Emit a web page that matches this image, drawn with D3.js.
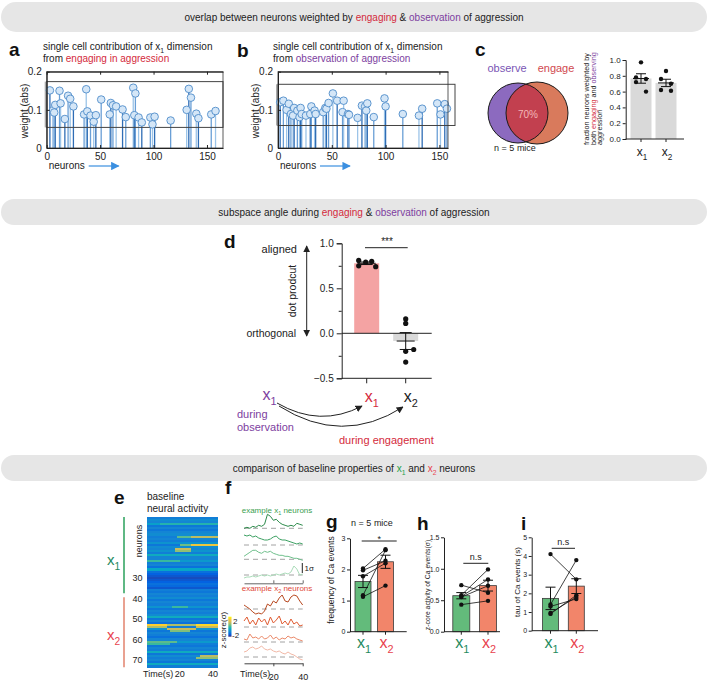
<!DOCTYPE html>
<html>
<head>
<meta charset="utf-8">
<script src="https://cdn.jsdelivr.net/npm/d3@7/dist/d3.min.js"></script>
<style>
  body { margin: 0; background: #fff; }
  svg { display: block; }
</style>
</head>
<body>
<script>
// ---- values ----

// a: |weight| of single neurons on x1, engaging in aggression
var engageNeuron = [3, 6, 7, 8, 12, 13, 17, 20, 22, 25, 35, 37, 38, 41, 44, 46, 51, 59, 60, 62, 65, 71, 74, 81, 82, 83, 86, 89, 97, 99, 101, 116, 131, 133, 135, 140, 142, 154, 158];
var engageWeight = [0.151, 0.099, 0.093, 0.113, 0.150, 0.117, 0.076, 0.137, 0.129, 0.109, 0.088, 0.154, 0.096, 0.085, 0.069, 0.086, 0.127, 0.088, 0.118, 0.112, 0.109, 0.101, 0.081, 0.158, 0.086, 0.143, 0.080, 0.067, 0.080, 0.062, 0.082, 0.072, 0.100, 0.155, 0.132, 0.090, 0.078, 0.088, 0.097];

// b: same, observation of aggression
var observeNeuron = [2, 5, 8, 10, 12, 14, 15, 18, 20, 21, 22, 26, 30, 31, 34, 35, 42, 44, 45, 47, 51, 55, 60, 61, 65, 66, 74, 78, 81, 82, 83, 89, 99, 100, 116, 131, 134, 148, 151, 155, 157];
var observeWeight = [0.120, 0.124, 0.100, 0.116, 0.089, 0.085, 0.105, 0.098, 0.081, 0.105, 0.089, 0.085, 0.089, 0.109, 0.098, 0.089, 0.094, 0.105, 0.103, 0.118, 0.143, 0.124, 0.094, 0.124, 0.089, 0.087, 0.079, 0.111, 0.109, 0.098, 0.117, 0.081, 0.130, 0.109, 0.089, 0.085, 0.103, 0.117, 0.088, 0.115, 0.103];

// c: overlap and fraction of neurons weighted by both
var overlapPct = 70;
var fracX1 = [0.97, 0.78, 0.76, 0.72, 0.60];
var fracX2 = [0.86, 0.76, 0.70, 0.62, 0.61];

// d: dot product
var dotX1 = [0.81, 0.79, 0.80, 0.74, 0.75];
var dotX2 = [0.16, 0.11, -0.20, -0.18, -0.32];

// e: baseline activity heatmap (z-score), per-row level + visible streaks [row, t0, t1, z]
var heatBase = [
  -1.1, -0.9, -1.0, -0.6, -1.2, -1.0, -1.2, -1.0, -0.9, -1.1,
  -1.0, -1.1, -0.8, -1.2, -0.9, -1.0, -0.8, -1.1, -1.2, -1.0,
  -1.0, -0.7, -1.1, -1.0, -1.3, -1.1, -1.3, -1.5, -1.6, -1.7,
  -1.6, -1.5, -1.3, -1.4, -1.6, -1.1, -1.2, -1.0, -1.1, -0.9,
  -1.2, -1.0, -1.1, -0.8, -1.2, -1.0, -1.1, -0.9, -0.7, -1.2,
  -1.0, -1.3, -0.6, -1.1, -0.8, -1.2, -1.0, -1.1, -1.3, -1.0,
  -0.7, -1.1, -1.2, -1.0, -1.1, -0.8, -1.2, -0.9, -1.1, -1.0,
  -1.2, -0.9, -1.1];
var heatEvents = [
  [4, 8, 43, -0.2], [10, 18, 27, 0.2], [10, 27, 43, 0.8], [14, 20, 27, 0.3], [14, 27, 43, 1.3],
  [16, 17, 27, 0.9], [17, 17, 27, 0.5], [19, 0, 43, -0.4], [22, 0, 20, 0.0], [26, 0, 43, -0.5],
  [44, 15, 25, 0.0], [49, 0, 43, -0.4], [53, 0, 12, 1.5], [53, 12, 30, 0.7], [53, 30, 43, 1.6],
  [54, 0, 12, 0.7], [54, 30, 43, 0.9], [55, 12, 30, 0.9], [56, 14, 26, 0.4], [61, 0, 18, 0.2],
  [62, 0, 14, 0.0], [66, 0, 43, -0.4], [68, 32, 43, 0.8], [69, 30, 43, 0.5], [72, 0, 43, -0.4]];
var heatTicks = [30, 40, 50, 60, 70];

// f: example traces (sigma above each dashed baseline), every 2 s
var traceTime = [0, 2, 4, 6, 8, 10, 12, 14, 16, 18, 20, 22, 24, 26, 28, 30, 32, 34, 36, 38, 40];
var x1Traces = [
  [0, 0.1, 0, 0.2, 0.1, 0.3, 0.2, 0.4, 1.4, 1.2, 0.8, 0.9, 0.6, 0.4, 0.3, 0.2, 0.3, 0.2, 0.5, 0.4, 0.3],
  [1.0, 0.9, 1.0, 0.8, 0.9, 0.7, 0.6, 0.5, 0.5, 0.6, 0.8, 0.9, 0.6, 0.5, 0.5, 0.4, 0.3, 0.2, 0.1, 0.2, 0.1],
  [0.3, 0.5, 0.7, 0.9, 0.9, 0.7, 0.6, 0.8, 0.7, 0.8, 0.6, 0.5, 0.4, 0.4, 0.3, 0.3, 0.2, 0.1, 0.1, 0.0, -0.1],
  [-0.3, -0.2, -0.2, -0.1, -0.2, -0.1, 0, -0.1, 0, -0.1, 0, 0.1, 0, 0.1, 0.2, 0.1, 0.3, 0.9, 0.6, 0.0, 0.1]];
var x2Traces = [
  [0.4, 0.2, 0, -0.3, -0.5, -0.4, -0.5, -0.2, 0.5, 0.3, 0.8, 0.6, 1.1, 1.4, 0.8, 0.7, 1.2, 1.4, 1.3, 0.8, 0.4],
  [0.6, 1.0, 0.3, 0.7, 0.2, 0.9, 0.5, 0.8, 0.2, 1.0, 0.4, 0.7, 1.1, 0.3, 0.6, 0.2, 0.8, 0.3, 0.5, 0.1, 0.2],
  [0.3, 0.2, 0.8, 0.4, 0.5, 0.3, 0.6, 0.3, 0.4, 0.7, 0.3, 0.5, 0.2, 0.4, 0.3, 0.6, 0.4, 0.5, 0.3, 0.2, 0.1],
  [0.5, 0.6, 0.9, 1.0, 0.8, 0.9, 1.1, 0.8, 0.7, 0.8, 0.6, 0.5, 0.6, 0.4, 0.3, 0.5, 0.3, 0.2, 0.0, -0.2, -0.3]];

// g, h, i: per mouse, x1 vs x2
var freqX1 = [2.03, 1.97, 1.78, 1.17, 1.12];
var freqX2 = [2.65, 2.28, 2.20, 2.62, 1.48];
var zactX1 = [0.74, 0.58, 0.56, 0.55, 0.43];
var zactX2 = [0.62, 0.99, 0.83, 0.73, 0.49];
var tauX1 = [4.10, 1.40, 0.90, 0.95, 1.30];
var tauX2 = [2.75, 3.78, 1.90, 1.80, 1.70];

// ---- drawing ----
var FONT = "'Liberation Sans', Arial, Helvetica, sans-serif";
var RED = "#d42a3c", PURPLE = "#7d3ea0", GREEN = "#1e8a5e", ORANGE = "#e8424e";

var svg = d3.select("body").append("svg")
  .attr("width", 708).attr("height", 681)
  .attr("font-family", FONT);

var defs = svg.append("defs");
function arrowMarker(id, col) {
  defs.append("marker").attr("id", id).attr("viewBox", "0 0 10 10")
    .attr("refX", 9).attr("refY", 5).attr("markerWidth", 7).attr("markerHeight", 7)
    .attr("orient", "auto-start-reverse")
    .append("path").attr("d", "M0,0L10,5L0,10z").attr("fill", col);
}
arrowMarker("ahBlack", "#222");
arrowMarker("ahBlue", "#3b8fe0");

// text with coloured parts and subscripts
function rich(parent, x, y, parts, size, anchor) {
  var t = parent.append("text").attr("x", x).attr("y", y)
    .attr("font-size", size).attr("text-anchor", anchor || "start");
  var shift = 0;
  parts.forEach(function(p) {
    var s = p.sub ? size * 0.3 : 0;
    t.append("tspan").attr("dy", s - shift)
      .attr("font-size", p.sub ? size * 0.68 : size)
      .attr("fill", p.c || "#222").text(p.t);
    shift = s;
  });
  return t;
}

function axisStyle(sel, fs) {
  sel.attr("font-family", FONT).attr("font-size", fs);
  sel.selectAll("path,line").attr("stroke", "#222");
  sel.selectAll("text").attr("fill", "#222");
}

function letter(t, x, y) {
  svg.append("text").attr("x", x).attr("y", y).attr("font-size", 19)
    .attr("font-weight", "bold").attr("fill", "#111").text(t);
}

function banner(y, h, parts) {
  svg.append("rect").attr("x", 1).attr("y", y).attr("width", 706).attr("height", h)
    .attr("rx", h / 2).attr("fill", "#e6e6e6");
  rich(svg, 354, y + h / 2 + 3.5, parts, 10, "middle");
}

function vlabel(x, y, txt, size) {
  svg.append("text").attr("transform", "translate(" + x + "," + y + ") rotate(-90)")
    .attr("text-anchor", "middle").attr("font-size", size).attr("fill", "#222").text(txt);
}

// banners
banner(2, 30, [{t: "overlap between neurons weighted by  "}, {t: "engaging", c: RED}, {t: " & "},
  {t: "observation", c: PURPLE}, {t: " of aggression"}]);
banner(199, 26, [{t: "subspace angle during "}, {t: "engaging", c: RED}, {t: " & "},
  {t: "observation", c: PURPLE}, {t: " of aggression"}]);
banner(455, 26, [{t: "comparison of baseline properties of "}, {t: "x", c: "#22a04a"}, {t: "1", c: "#22a04a", sub: true},
  {t: " and "}, {t: "x", c: ORANGE}, {t: "2", c: ORANGE, sub: true}, {t: " neurons"}]);

// ---- a, b: stem plots ----
var stemShades = ["#2f6db5", "#6a9fd6", "#9cc4e8"];
function stemPanel(o) {
  var x = d3.scaleLinear().domain(o.domain).range([o.x0, o.x1]);
  var y = d3.scaleLinear().domain([0, 0.2]).range([148, 71.7]);
  var g = svg.append("g");
  var pts = o.idx.map(function(d, i) { return {n: d, w: o.w[i]}; });

  g.selectAll("line.stem").data(pts).enter().append("line").attr("class", "stem")
    .attr("x1", function(d) { return x(d.n); }).attr("x2", function(d) { return x(d.n); })
    .attr("y1", y(0)).attr("y2", function(d) { return y(d.w); })
    .attr("stroke", function(d, i) { return stemShades[i % 3]; }).attr("stroke-width", 1.3);

  // highlighted band
  g.append("rect").attr("x", o.x0).attr("y", y(o.box[1]))
    .attr("width", o.boxX1 - o.x0).attr("height", y(o.box[0]) - y(o.box[1]))
    .attr("fill", "none").attr("stroke", "#444").attr("stroke-width", 1);
  g.append("rect").attr("x", o.x0 - 2).attr("y", y(o.box[1]))
    .attr("width", 2).attr("height", y(o.box[0]) - y(o.box[1])).attr("fill", "#aaa");

  g.selectAll("circle").data(pts).enter().append("circle")
    .attr("cx", function(d) { return x(d.n); }).attr("cy", function(d) { return y(d.w); })
    .attr("r", 3.8).attr("fill", "#d4e6f7").attr("stroke", "#4f8cc9").attr("stroke-width", 0.9);

  // box frame
  g.append("rect").attr("x", o.x0).attr("y", y(0.2)).attr("width", o.x1 - o.x0)
    .attr("height", y(0) - y(0.2)).attr("fill", "none").attr("stroke", "#333").attr("stroke-width", 0.8);

  var ya = g.append("g").attr("transform", "translate(" + o.x0 + ",0)")
    .call(d3.axisLeft(y).tickValues([0, 0.1, 0.2])
      .tickFormat(function(d) { return d === 0 ? "0" : d.toFixed(1); })
      .tickSizeInner(-3).tickSizeOuter(0).tickPadding(5));
  axisStyle(ya, 10);
  var xa = g.append("g").attr("transform", "translate(0," + y(0) + ")")
    .call(d3.axisBottom(x).tickValues([0, 50, 100, 150]).tickSizeInner(-3).tickSizeOuter(0).tickPadding(5));
  axisStyle(xa, 10);
  var xt = g.append("g").attr("transform", "translate(0," + y(0.2) + ")")
    .call(d3.axisTop(x).tickValues([0, 50, 100, 150]).tickSizeInner(-3).tickSizeOuter(0).tickFormat(""));
  axisStyle(xt, 10);

  vlabel(o.x0 - 19, 111, "weight (abs)", 10);
  g.append("text").attr("x", o.x0 + 2).attr("y", 169).attr("font-size", 10)
    .attr("fill", "#222").text("neurons");
  g.append("line").attr("x1", o.x0 + 42).attr("x2", o.x0 + 72).attr("y1", 166).attr("y2", 166)
    .attr("stroke", "#3b8fe0").attr("stroke-width", 1.2).attr("marker-end", "url(#ahBlue)");

  rich(svg, o.tx, 50, [{t: "single cell contribution of "}, {t: "x"}, {t: "1", sub: true}, {t: " dimension"}], 10);
  rich(svg, o.tx, 61.5, o.title2, 10);
}

letter("a", 9, 56);
stemPanel({x0: 46.7, x1: 223, domain: [0, 165], box: [0.054, 0.174], boxX1: 223,
  idx: engageNeuron, w: engageWeight, tx: 43,
  title2: [{t: "from "}, {t: "engaging in aggression", c: RED}]});
letter("b", 237, 57);
stemPanel({x0: 278, x1: 448, domain: [0, 158], box: [0.059, 0.167], boxX1: 455,
  idx: observeNeuron, w: observeWeight, tx: 273,
  title2: [{t: "from "}, {t: "observation of aggression", c: PURPLE}]});

// ---- c: venn + bars ----
letter("c", 475, 56);
svg.append("text").attr("x", 507).attr("y", 72).attr("text-anchor", "middle")
  .attr("font-size", 11).attr("fill", "#7a55b5").text("observe");
svg.append("text").attr("x", 556).attr("y", 72).attr("text-anchor", "middle")
  .attr("font-size", 11).attr("fill", "#d0484e").text("engage");
var vennL = {cx: 518, cy: 113, r: 30}, vennR = {cx: 537, cy: 113, r: 31};
defs.append("clipPath").attr("id", "clipL").append("circle")
  .attr("cx", vennL.cx).attr("cy", vennL.cy).attr("r", vennL.r);
svg.append("circle").attr("cx", vennL.cx).attr("cy", vennL.cy).attr("r", vennL.r).attr("fill", "#8c6abf");
svg.append("circle").attr("cx", vennR.cx).attr("cy", vennR.cy).attr("r", vennR.r).attr("fill", "#d97a5c");
svg.append("circle").attr("cx", vennR.cx).attr("cy", vennR.cy).attr("r", vennR.r)
  .attr("fill", "#c2404f").attr("clip-path", "url(#clipL)");
[vennL, vennR].forEach(function(c) {
  svg.append("circle").attr("cx", c.cx).attr("cy", c.cy).attr("r", c.r)
    .attr("fill", "none").attr("stroke", "#1a1a1a").attr("stroke-width", 1);
});
svg.append("text").attr("x", 528).attr("y", 118).attr("text-anchor", "middle")
  .attr("font-size", 10).attr("fill", "#f4b8b8").text(overlapPct + "%");
svg.append("text").attr("x", 515).attr("y", 151).attr("text-anchor", "middle")
  .attr("font-size", 9).attr("fill", "#222").text("n = 5 mice");

(function() {
  var y = d3.scaleLinear().domain([0, 1]).range([139, 60]);
  var x = d3.scalePoint().domain(["x1", "x2"]).range([641, 666]);
  var g = svg.append("g");
  var sets = [fracX1, fracX2], keys = ["x1", "x2"], jit = [0, -5, 5, -5, 5];
  sets.forEach(function(vals, k) {
    var m = d3.mean(vals), se = d3.deviation(vals) / Math.sqrt(vals.length), cx = x(keys[k]);
    g.append("rect").attr("x", cx - 10.5).attr("y", y(m)).attr("width", 21)
      .attr("height", y(0) - y(m)).attr("fill", "#d9d9d9");
    g.append("line").attr("x1", cx).attr("x2", cx).attr("y1", y(m - se)).attr("y2", y(m + se)).attr("stroke", "#111");
    [m - se, m, m + se].forEach(function(v, j) {
      var hw = j === 1 ? 8 : 5;
      g.append("line").attr("x1", cx - hw).attr("x2", cx + hw).attr("y1", y(v)).attr("y2", y(v)).attr("stroke", "#111");
    });
    g.selectAll(null).data(vals).enter().append("circle")
      .attr("cx", function(d, i) { return cx + jit[i]; }).attr("cy", function(d) { return y(d); })
      .attr("r", 2.2).attr("fill", "#111");
  });
  var ya = g.append("g").attr("transform", "translate(625.7,0)")
    .call(d3.axisLeft(y).tickValues([0, 0.2, 0.4, 0.6, 0.8, 1]).tickFormat(d3.format(".1f")).tickSize(3).tickPadding(2));
  axisStyle(ya, 8);
  g.append("line").attr("x1", 625.7).attr("x2", 684).attr("y1", y(0)).attr("y2", y(0)).attr("stroke", "#222");
  keys.forEach(function(k, i) {
    g.append("line").attr("x1", x(k)).attr("x2", x(k)).attr("y1", y(0)).attr("y2", y(0) + 3).attr("stroke", "#222");
    rich(g, x(k) + 1, 156, [{t: "x"}, {t: String(i + 1), sub: true}], 12, "middle");
  });
  var lab = g.append("g").attr("font-size", 7.2).attr("fill", "#222");
  [[{t: "fraction neurons weighted by"}], [{t: "both "}, {t: "engaging", c: RED}, {t: " and "}, {t: "observing", c: PURPLE}], [{t: "aggression"}]]
    .forEach(function(parts, i) {
      var t = rich(lab, 0, 0, parts, 7.2, "start");
      t.attr("transform", "translate(" + (589 + i * 6.5) + ",145) rotate(-90)");
    });
})();

// ---- d: dot product ----
letter("d", 224, 248);
(function() {
  var y = d3.scaleLinear().domain([-0.5, 1]).range([378.3, 243.3]);
  var x = d3.scalePoint().domain(["x1", "x2"]).range([366.7, 405.7]);
  var g = svg.append("g");
  var sets = [dotX1, dotX2], keys = ["x1", "x2"], fills = ["#f4a3a3", "#d9d9d9"];
  var jits = [[-8, -1, 5, 9, -8], [0, 0, 0, 8, 0]];
  sets.forEach(function(vals, k) {
    var m = d3.mean(vals), cx = x(keys[k]);
    g.append("rect").attr("x", cx - 12.5).attr("y", y(Math.max(m, 0))).attr("width", 25)
      .attr("height", Math.abs(y(m) - y(0))).attr("fill", fills[k]);
  });
  var ya = g.append("g").attr("transform", "translate(341.7,0)")
    .call(d3.axisLeft(y).tickValues([-0.5, 0, 0.5, 1]).tickFormat(d3.format(".1f")).tickSize(5).tickPadding(3));
  axisStyle(ya, 10);
  var ym = g.append("g").attr("transform", "translate(341.7,0)")
    .call(d3.axisLeft(y).tickValues([-0.25, 0.25, 0.75]).tickFormat("").tickSize(3).tickSizeOuter(0));
  axisStyle(ym, 10);
  ym.select(".domain").remove();
  [0, -0.5].forEach(function(v) {
    g.append("line").attr("x1", 341.7).attr("x2", 431.7).attr("y1", y(v)).attr("y2", y(v)).attr("stroke", "#222");
  });
  keys.forEach(function(k) {
    g.append("line").attr("x1", x(k)).attr("x2", x(k)).attr("y1", y(-0.5)).attr("y2", y(-0.5) + 5).attr("stroke", "#222");
  });
  sets.forEach(function(vals, k) {
    var m = d3.mean(vals), se = d3.deviation(vals) / Math.sqrt(vals.length), cx = x(keys[k]);
    g.append("line").attr("x1", cx).attr("x2", cx).attr("y1", y(m - se)).attr("y2", y(m + se)).attr("stroke", "#111");
    [m - se, m + se].forEach(function(v) {
      g.append("line").attr("x1", cx - 6).attr("x2", cx + 6).attr("y1", y(v)).attr("y2", y(v)).attr("stroke", "#111");
    });
    g.append("line").attr("x1", cx - 9).attr("x2", cx + 9).attr("y1", y(m)).attr("y2", y(m)).attr("stroke", "#111");
    g.selectAll(null).data(vals).enter().append("circle")
      .attr("cx", function(d, i) { return cx + jits[k][i]; }).attr("cy", function(d) { return y(d); })
      .attr("r", 2.6).attr("fill", "#111");
  });
  g.append("line").attr("x1", 365).attr("x2", 407.7).attr("y1", 247.7).attr("y2", 247.7).attr("stroke", "#222");
  g.append("text").attr("x", 387).attr("y", 245).attr("text-anchor", "middle").attr("font-size", 10)
    .attr("fill", "#222").text("***");

  rich(g, x("x1") - 2, 402, [{t: "x", c: RED}, {t: "1", c: RED, sub: true}], 16, "start");
  rich(g, x("x2") - 2, 402, [{t: "x"}, {t: "2", sub: true}], 16, "start");

  // aligned / orthogonal arrow
  g.append("line").attr("x1", 306.7).attr("x2", 306.7).attr("y1", 336).attr("y2", 246)
    .attr("stroke", "#222").attr("stroke-width", 1)
    .attr("marker-start", "url(#ahBlack)").attr("marker-end", "url(#ahBlack)");
  g.append("text").attr("x", 297).attr("y", 253).attr("text-anchor", "end").attr("font-size", 11)
    .attr("fill", "#222").text("aligned");
  g.append("text").attr("x", 296).attr("y", 337).attr("text-anchor", "end").attr("font-size", 10.5)
    .attr("fill", "#222").text("orthogonal");
  vlabel(296, 291, "dot prodcut", 10.5);

  rich(g, 262.5, 400, [{t: "x", c: PURPLE}, {t: "1", c: PURPLE, sub: true}], 16, "start");
  g.append("path").attr("d", "M277,403 Q320,428 362,406").attr("fill", "none")
    .attr("stroke", "#222").attr("stroke-width", 1).attr("marker-end", "url(#ahBlack)");
  g.append("path").attr("d", "M279,406 Q342,446 403,407").attr("fill", "none")
    .attr("stroke", "#222").attr("stroke-width", 1).attr("marker-end", "url(#ahBlack)");
  g.append("text").attr("x", 237).attr("y", 418).attr("font-size", 11).attr("fill", PURPLE).text("during");
  g.append("text").attr("x", 237).attr("y", 431).attr("font-size", 11).attr("fill", PURPLE).text("observation");
  g.append("text").attr("x", 339).attr("y", 444).attr("font-size", 11).attr("fill", RED).text("during engagement");
})();

// ---- e: heatmap ----
letter("e", 114, 504);
var parula = d3.scaleLinear().domain([-2, -1.5, -1, -0.5, 0, 0.5, 1, 1.5, 2])
  .range(["#352a87", "#0363e1", "#1485d4", "#06a7c6", "#38b99e", "#92bf73", "#d9ba56", "#fcce2e", "#f9fb0e"])
  .clamp(true);
(function() {
  var xT = d3.scaleLinear().domain([0, 43]).range([146.7, 218]);
  var yR = d3.scaleLinear().domain([0.5, heatBase.length + 0.5]).range([517, 667.3]);
  var cells = [];
  heatBase.forEach(function(b, r) {
    for (var t = 0; t < 43; t++) {
      var v = b;
      heatEvents.forEach(function(e) { if (e[0] === r + 1 && t >= e[1] && t < e[2]) v = e[3]; });
      cells.push({row: r + 1, t: t, v: v});
    }
  });
  var g = svg.append("g");
  g.selectAll("rect").data(cells).enter().append("rect")
    .attr("x", function(d) { return xT(d.t); }).attr("y", function(d) { return yR(d.row - 0.5); })
    .attr("width", xT(1) - xT(0) + 0.3).attr("height", yR(1.5) - yR(0.5) + 0.3)
    .attr("fill", function(d) { return parula(d.v); }).attr("shape-rendering", "crispEdges");
  g.selectAll("text.tk").data(heatTicks).enter().append("text")
    .attr("x", 142.5).attr("y", function(d) { return yR(d) + 3.3; })
    .attr("text-anchor", "end").attr("font-size", 9).attr("fill", "#222").text(function(d) { return d; });
  g.append("text").attr("transform", "translate(141.5,541) rotate(-90)").attr("text-anchor", "middle")
    .attr("font-size", 9).attr("fill", "#222").text("neurons");
  g.append("text").attr("x", 143).attr("y", 677).attr("font-size", 9).attr("fill", "#222").text("Time(s)");
  [20, 40].forEach(function(t) {
    g.append("text").attr("x", xT(t)).attr("y", 677).attr("text-anchor", "middle")
      .attr("font-size", 9).attr("fill", "#222").text(t);
  });
  g.append("text").attr("x", 147).attr("y", 500).attr("font-size", 10).attr("fill", "#222").text("baseline");
  g.append("text").attr("x", 147).attr("y", 512).attr("font-size", 10).attr("fill", "#222").text("neural activity");
  // group bars
  g.append("line").attr("x1", 124).attr("x2", 124).attr("y1", yR(0.5)).attr("y2", yR(37.5))
    .attr("stroke", "#5fb884").attr("stroke-width", 2);
  g.append("line").attr("x1", 124).attr("x2", 124).attr("y1", yR(39.5)).attr("y2", yR(73.5))
    .attr("stroke", "#e9a191").attr("stroke-width", 2);
  rich(g, 107, 565, [{t: "x", c: GREEN}, {t: "1", c: GREEN, sub: true}], 15, "start");
  rich(g, 107, 640, [{t: "x", c: ORANGE}, {t: "2", c: ORANGE, sub: true}], 15, "start");

  // colourbar
  var grad = defs.append("linearGradient").attr("id", "parulaGrad")
    .attr("x1", 0).attr("y1", 1).attr("x2", 0).attr("y2", 0);
  parula.domain().forEach(function(d, i, arr) {
    grad.append("stop").attr("offset", i / (arr.length - 1)).attr("stop-color", parula(d));
  });
  g.append("rect").attr("x", 228.3).attr("y", 616.7).attr("width", 3.2).attr("height", 20)
    .attr("fill", "url(#parulaGrad)");
  g.append("text").attr("x", 233).attr("y", 623.5).attr("font-size", 8).attr("fill", "#222").text("2");
  g.append("text").attr("x", 232).attr("y", 638).attr("font-size", 8).attr("fill", "#222").text("-2");
  g.append("text").attr("transform", "translate(226,630) rotate(-90)").attr("text-anchor", "middle")
    .attr("font-size", 8).attr("fill", "#222").text("z-score(σ)");
})();

// ---- f: example traces ----
letter("f", 225, 494);
(function() {
  var x = d3.scaleLinear().domain([0, 40]).range([244, 302.7]);
  var g = svg.append("g");
  var greenCols = ["#2b8a4a", "#3ca062", "#6fc08c", "#aadcb9"];
  var redCols = ["#b8481f", "#e05a30", "#eb8a6a", "#f2b8a6"];
  var greenBase = [528.3, 545, 559.3, 575], redBase = [609, 627, 642, 657];
  function draw(traces, bases, cols) {
    traces.forEach(function(tr, k) {
      g.append("line").attr("x1", x(0)).attr("x2", x(40)).attr("y1", bases[k]).attr("y2", bases[k])
        .attr("stroke", "#8a8a8a").attr("stroke-width", 0.8).attr("stroke-dasharray", "5,4");
      var line = d3.line().x(function(d, i) { return x(traceTime[i]); })
        .y(function(d) { return bases[k] - d * 10; }).curve(d3.curveLinear);
      g.append("path").attr("d", line(tr)).attr("fill", "none").attr("stroke", cols[k]).attr("stroke-width", 1);
    });
  }
  draw(x1Traces, greenBase, greenCols);
  draw(x2Traces, redBase, redCols);
  rich(g, 241.7, 513, [{t: "example ", c: "#3aa050"}, {t: "x", c: "#3aa050"}, {t: "1", c: "#3aa050", sub: true}, {t: " neurons", c: "#3aa050"}], 8, "start");
  rich(g, 241.7, 591, [{t: "example ", c: "#e04838"}, {t: "x", c: "#e04838"}, {t: "2", c: "#e04838", sub: true}, {t: " neurons", c: "#e04838"}], 8, "start");
  var a1 = g.append("g").attr("transform", "translate(0,583.3)")
    .call(d3.axisBottom(x).tickValues([20, 40]).tickFormat("").tickSizeInner(-3).tickSizeOuter(0));
  axisStyle(a1, 9);
  a1.selectAll("path,line").attr("stroke", "#666");
  var a2 = g.append("g").attr("transform", "translate(0,663.3)")
    .call(d3.axisBottom(x).tickValues([20, 40]).tickSizeInner(3).tickSizeOuter(0).tickPadding(3));
  axisStyle(a2, 9);
  a2.selectAll("path,line").attr("stroke", "#444");
  a2.selectAll("text").attr("y", 10);
  g.append("text").attr("x", 240).attr("y", 677).attr("font-size", 9).attr("fill", "#222").text("Time(s)");
  g.append("line").attr("x1", 302.3).attr("x2", 302.3).attr("y1", 563).attr("y2", 573).attr("stroke", "#222");
  g.append("text").attr("x", 304.5).attr("y", 571).attr("font-size", 8).attr("fill", "#222").text("1σ");
})();

// ---- g, h, i: paired bars ----
function pairedBars(o) {
  var y = d3.scaleLinear().domain(o.domain).range([o.yBase, o.yTop]);
  var g = svg.append("g");
  var sets = [o.a, o.b], fills = ["#63bb7b", "#f2856a"], cx = o.centers;
  sets.forEach(function(vals, k) {
    var m = d3.mean(vals);
    g.append("rect").attr("x", cx[k] - o.bw / 2).attr("y", y(m)).attr("width", o.bw)
      .attr("height", y(0) - y(m)).attr("fill", fills[k]).attr("stroke", "#3a3a3a").attr("stroke-width", 0.8);
  });
  sets.forEach(function(vals, k) {
    var m = d3.mean(vals), se = d3.deviation(vals) / Math.sqrt(vals.length);
    g.append("line").attr("x1", cx[k]).attr("x2", cx[k]).attr("y1", y(m - se)).attr("y2", y(m + se)).attr("stroke", "#111");
    [m - se, m + se].forEach(function(v) {
      g.append("line").attr("x1", cx[k] - 5).attr("x2", cx[k] + 5).attr("y1", y(v)).attr("y2", y(v)).attr("stroke", "#111");
    });
  });
  o.a.forEach(function(v, i) {
    g.append("line").attr("x1", cx[0]).attr("x2", cx[1]).attr("y1", y(v)).attr("y2", y(o.b[i]))
      .attr("stroke", "#111").attr("stroke-width", 0.8);
  });
  sets.forEach(function(vals, k) {
    g.selectAll(null).data(vals).enter().append("circle")
      .attr("cx", cx[k]).attr("cy", function(d) { return y(d); }).attr("r", 2.2).attr("fill", "#111");
  });
  var ya = g.append("g").attr("transform", "translate(" + o.x0 + ",0)")
    .call(d3.axisLeft(y).tickValues(o.ticks).tickFormat(o.fmt).tickSize(3).tickSizeOuter(0).tickPadding(1.5));
  axisStyle(ya, 7);
  g.append("line").attr("x1", o.x0).attr("x2", o.xEnd).attr("y1", y(0)).attr("y2", y(0)).attr("stroke", "#222");
  cx.forEach(function(c, i) {
    g.append("line").attr("x1", c).attr("x2", c).attr("y1", y(0)).attr("y2", y(0) + 3).attr("stroke", "#222");
    var col = i === 0 ? GREEN : ORANGE;
    rich(g, c + 1, 648, [{t: "x", c: col}, {t: String(i + 1), c: col, sub: true}], 16, "middle");
  });
  g.append("line").attr("x1", o.sig[0]).attr("x2", o.sig[1]).attr("y1", o.sig[2]).attr("y2", o.sig[2]).attr("stroke", "#222");
  g.append("text").attr("x", (o.sig[0] + o.sig[1]) / 2).attr("y", o.sig[2] - (o.sigText === "*" ? -1 : 3))
    .attr("text-anchor", "middle").attr("font-size", 9).attr("fill", "#222").text(o.sigText);
  vlabel(o.labelX, o.labelY, o.label, o.labelSize);
}

letter("g", 326, 528);
svg.append("text").attr("x", 372).attr("y", 526).attr("text-anchor", "middle").attr("font-size", 9)
  .attr("fill", "#222").text("n = 5 mice");
pairedBars({a: freqX1, b: freqX2, domain: [0, 3], yBase: 631.7, yTop: 538.3, x0: 350, xEnd: 406.7,
  centers: [363, 385.5], bw: 16, ticks: [0, 1, 2, 3], fmt: d3.format("d"),
  sig: [361.7, 396.7, 541], sigText: "*", label: "frequency of Ca events", labelX: 334, labelY: 580, labelSize: 8.5});
letter("h", 417, 530);
pairedBars({a: zactX1, b: zactX2, domain: [0, 1.5], yBase: 631.7, yTop: 537.3, x0: 444, xEnd: 500,
  centers: [461.3, 488], bw: 17, ticks: [0, 0.5, 1, 1.5], fmt: d3.format(".1f"),
  sig: [463.3, 488.3, 563.3], sigText: "n.s", label: "z-core activity of Ca events(σ)", labelX: 430, labelY: 585, labelSize: 6.8});
letter("i", 521, 530);
pairedBars({a: tauX1, b: tauX2, domain: [0, 5], yBase: 630.7, yTop: 537.3, x0: 531.7, xEnd: 598,
  centers: [550.5, 576.3], bw: 16, ticks: [0, 1, 2, 3, 4, 5], fmt: d3.format("d"),
  sig: [551.7, 575, 548.3], sigText: "n.s", label: "tau of Ca events (s)", labelX: 520, labelY: 582, labelSize: 8});
</script>
</body>
</html>
